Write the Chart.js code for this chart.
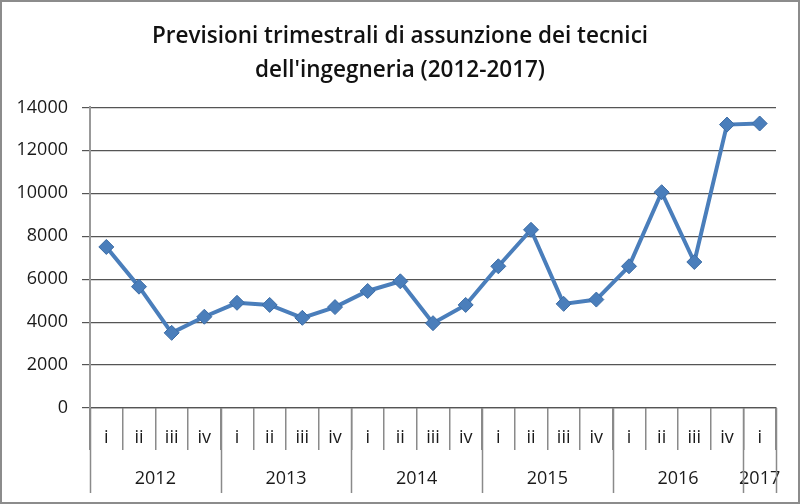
<!DOCTYPE html>
<html>
<head>
<meta charset="utf-8">
<script src="https://cdn.jsdelivr.net/npm/chart.js@4"></script>
<style>
  html, body { margin: 0; padding: 0; background: #fff; }
  #wrap { width: 800px; height: 504px; position: relative; }
</style>
</head>
<body>
<div id="wrap"><canvas id="c" width="800" height="504"></canvas></div>
<script>
const quarters = ['i','ii','iii','iv','i','ii','iii','iv','i','ii','iii','iv','i','ii','iii','iv','i','ii','iii','iv','i'];
const years = ['2012','2013','2014','2015','2016','2017'];
const yearSpans = [4,4,4,4,4,1];
const hires = [7500,5650,3500,4250,4900,4800,4200,4700,5450,5900,3950,4800,6600,8300,4850,5050,6600,10050,6800,13200,13250];
const yTicks = [0,2000,4000,6000,8000,10000,12000,14000];
const titleLines = ['Previsioni trimestrali di assunzione dei tecnici', "dell'ingegneria (2012-2017)"];

const FONT = "'Open Sans', 'Liberation Sans', sans-serif";

const framePlugin = {
  id: 'frame',
  beforeDraw(chart) {
    const ctx = chart.ctx;
    ctx.save();
    ctx.fillStyle = '#fff';
    ctx.fillRect(0, 0, chart.width, chart.height);
    ctx.restore();
  },
  afterDraw(chart) {
    const ctx = chart.ctx;
    const x = chart.scales.x;
    const top = chart.chartArea.bottom;
    ctx.save();
    ctx.strokeStyle = '#8a8a8a';
    ctx.lineWidth = 1.5;
    let idx = 0;
    const half = (x.getPixelForTick(1) - x.getPixelForTick(0)) / 2;
    const bounds = [x.getPixelForTick(0) - half];
    ctx.font = "18px " + FONT;
    ctx.fillStyle = '#1a1a1a';
    ctx.textAlign = 'center';
    ctx.textBaseline = 'middle';
    yearSpans.forEach((span, k) => {
      const start = idx, end = idx + span - 1;
      const right = x.getPixelForTick(end) + half;
      bounds.push(right);
      const cx = (x.getPixelForTick(start) + x.getPixelForTick(end)) / 2;
      ctx.fillText(years[k], cx, top + 71);
      idx += span;
    });
    bounds.forEach(b => {
      ctx.beginPath();
      ctx.moveTo(Math.round(b) + 0.5, top);
      ctx.lineTo(Math.round(b) + 0.5, top + 85);
      ctx.stroke();
    });
    ctx.strokeStyle = '#8c8c8c';
    ctx.lineWidth = 2;
    ctx.strokeRect(1, 1, chart.width - 2, chart.height - 2);
    ctx.restore();
  }
};

new Chart(document.getElementById('c'), {
  type: 'line',
  data: {
    labels: quarters,
    datasets: [{
      data: hires,
      borderColor: '#4A7EBB',
      backgroundColor: '#4A7EBB',
      borderWidth: 4,
      pointStyle: 'rectRot',
      pointRadius: 7.5,
      pointBorderColor: '#3D6DA6',
      pointBackgroundColor: '#4A7EBB',
      pointBorderWidth: 1,
      tension: 0
    }]
  },
  options: {
    responsive: false,
    animation: false,
    events: [],
    layout: { padding: { left: 0, right: 0, top: 19, bottom: 0 } },
    plugins: {
      legend: { display: false },
      tooltip: { enabled: false },
      title: {
        display: true,
        text: titleLines,
        color: '#111',
        font: { family: FONT, size: 22.5, weight: '600', lineHeight: 1.52 },
        padding: { top: 0, bottom: 20 }
      }
    },
    scales: {
      x: {
        type: 'category',
        offset: true,
        grid: { offset: true, drawOnChartArea: false, drawTicks: true, tickLength: 42, color: '#8a8a8a', lineWidth: 1.5 },
        border: { display: true, color: '#555', width: 1.2 },
        ticks: { color: '#1a1a1a', font: { family: FONT, size: 18 }, padding: -23, autoSkip: false, maxRotation: 0 },
        afterFit(s) { s.height = 96; }
      },
      y: {
        min: 0,
        max: 14000,
        afterBuildTicks(s) { s.ticks = yTicks.map(v => ({ value: v })); },
        grid: { color: '#555', lineWidth: 1.2, tickLength: 8, drawTicks: true },
        border: { display: true, color: '#999', width: 2 },
        ticks: { color: '#1a1a1a', font: { family: FONT, size: 18 }, padding: 14, callback: v => String(v) },
        afterFit(s) { s.width = 90; }
      },
      yRight: {
        position: 'right',
        display: true,
        min: 0,
        max: 14000,
        grid: { display: false },
        border: { display: false },
        ticks: { display: false },
        afterFit(s) { s.width = 24; }
      }
    }
  },
  plugins: [framePlugin]
});
</script>
</body>
</html>
